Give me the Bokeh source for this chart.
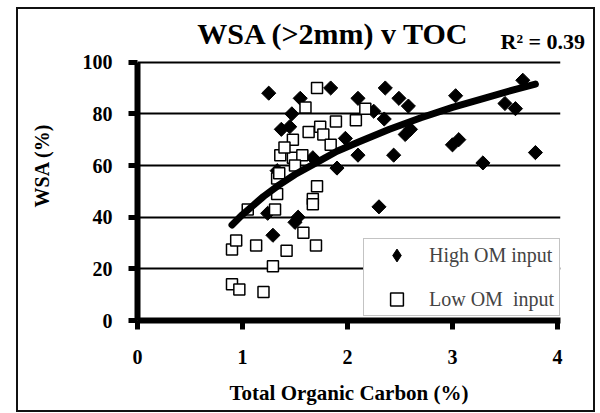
import numpy as np
from bokeh.plotting import figure
from bokeh.models import Range1d, FixedTicker, Label, LinearAxis
from bokeh.embed import file_html
from bokeh.resources import INLINE

# ---- data ----
high_x = [1.25, 1.55, 1.47, 1.37, 1.45, 1.67, 1.33, 1.84, 2.10, 2.36, 2.49, 2.58, 2.25, 2.35,
          2.60, 2.55, 3.03, 3.67, 3.50, 3.60, 3.00, 3.06, 3.79, 3.29, 2.44, 2.10, 1.90, 2.30,
          1.98, 1.53, 1.29, 1.50, 1.24]
high_y = [88, 86, 80, 74, 75, 63, 58, 90, 86, 90, 86, 83, 81, 78,
          74, 72, 87, 93, 84, 82, 68, 70, 65, 61, 64, 64, 59, 44,
          70.5, 40, 33, 38, 41.5]

low_x = [0.90, 0.94, 0.90, 0.97, 1.13, 1.20, 1.29, 1.42, 1.31, 1.05, 1.33, 1.33, 1.36, 1.48,
         1.57, 1.48, 1.63, 1.71, 1.60, 1.74, 1.77, 1.71, 1.67, 1.67, 1.58, 1.70, 1.89, 1.84,
         2.08, 2.17, 1.40, 1.50, 1.35]
low_y = [27.5, 31, 14, 12, 29, 11, 21, 27, 43, 43, 55, 49, 64, 63,
         64, 70, 73, 90, 82.5, 75, 72, 52, 47, 45, 34, 29, 77, 68,
         77.5, 82, 67, 60, 57]

trend_x = [0.9, 1.0, 1.1, 1.2, 1.35, 1.5, 1.7, 1.9, 2.1, 2.4, 2.7, 3.0, 3.3, 3.6, 3.79]
trend_y = [37, 41, 44.5, 48, 52.5, 56.5, 61, 65.5, 69, 74, 78.5, 82.5, 86, 89.5, 91.5]

x_ticks = [0, 1, 2, 3, 4]
y_ticks = [0, 20, 40, 60, 80, 100]

title_text = "WSA (>2mm) v TOC"
r2_text = "R\u00b2 = 0.39"
x_label = "Total Organic Carbon (%)"
y_label = "WSA (%)"
high_label = "High OM input"
low_label = "Low OM  input"

FONT = "Liberation Serif"

# frame: x 0..4.029 spans abs 137..560 ; y 0..120 spans abs 320..10 (100 at abs 62)
p = figure(width=575, height=401, output_backend="svg", toolbar_location=None,
           x_range=Range1d(0, 4.029), y_range=Range1d(0, 120),
           min_border_left=119, min_border_right=33, min_border_top=1, min_border_bottom=90)
p.margin = (9, 0, 0, 18)
p.styles = {"outline": "2px solid #111111"}
p.outline_line_color = None
p.background_fill_color = "white"
p.border_fill_color = "white"
p.title.text = ""

p.xaxis.ticker = FixedTicker(ticks=x_ticks)
p.yaxis.ticker = FixedTicker(ticks=y_ticks)
p.yaxis.bounds = (0, 100)
p.xgrid.grid_line_color = None
p.ygrid.ticker = FixedTicker(ticks=y_ticks)
p.ygrid.grid_line_color = "black"
p.ygrid.grid_line_width = 2

for ax in (p.xaxis[0], p.yaxis[0]):
    ax.axis_line_width = 6
    ax.axis_line_color = "black"
    ax.major_tick_line_width = 5
    ax.major_tick_line_color = "black"
    ax.major_tick_out = 9
    ax.major_tick_in = 0
    ax.minor_tick_line_color = None
    ax.major_label_text_font = FONT
    ax.major_label_text_font_style = "bold"
    ax.major_label_text_font_size = "20px"
    ax.major_label_text_color = "black"
    ax.axis_label_text_font = FONT
    ax.axis_label_text_font_style = "bold"
    ax.axis_label_text_color = "black"

p.xaxis.axis_label = x_label
p.xaxis.axis_label_text_font_size = "21px"
p.xaxis.major_label_standoff = 20
p.xaxis.axis_label_standoff = 14
p.yaxis.axis_label = y_label
p.yaxis.axis_label_text_font_size = "20px"
p.yaxis.major_label_standoff = 16
p.yaxis.axis_label_standoff = 27

# R² annotation shown as the single label of an unlined right-hand axis
r2_axis = LinearAxis(ticker=FixedTicker(ticks=[108]), major_label_overrides={108: r2_text},
                     axis_line_color=None, major_tick_line_color=None, minor_tick_line_color=None,
                     major_tick_out=0, major_tick_in=0, major_label_standoff=-60,
                     major_label_text_font=FONT, major_label_text_font_style="bold",
                     major_label_text_font_size="22px", major_label_text_color="black")
p.add_layout(r2_axis, "right")

# legend key for the filled diamonds (zero-size in the plot; legend sizes its own key)
p.scatter(high_x, high_y, marker="diamond", size=0, fill_color="black", line_color="black",
          legend_label=high_label)
# data markers: filled diamonds (rotated squares) and open squares
p.scatter(high_x, high_y, marker="square", angle=np.pi / 4, size=10,
          fill_color="black", line_color="black")
p.scatter(low_x, low_y, marker="square", size=11, fill_color="white",
          line_color="black", line_width=1.5, legend_label=low_label)
p.line(trend_x, trend_y, line_width=7, line_color="black", line_cap="round", line_join="round")

lg = p.legend[0]
lg.location = (226, 4)
lg.glyph_width = 65
lg.glyph_height = 32
lg.label_standoff = 0
lg.label_width = 130
lg.label_text_font = FONT
lg.label_text_font_size = "20px"
lg.spacing = 12
lg.padding = 0
lg.margin = 0
lg.border_line_color = "#888888"
lg.border_line_width = 1
lg.background_fill_alpha = 1.0

p.add_layout(Label(x=1.867, y=111.1, text=title_text, text_font=FONT, text_font_size="30px",
                   text_font_style="bold", text_align="center", text_baseline="middle",
                   text_color="black"))

open("out.html", "w").write(file_html(p, INLINE))
